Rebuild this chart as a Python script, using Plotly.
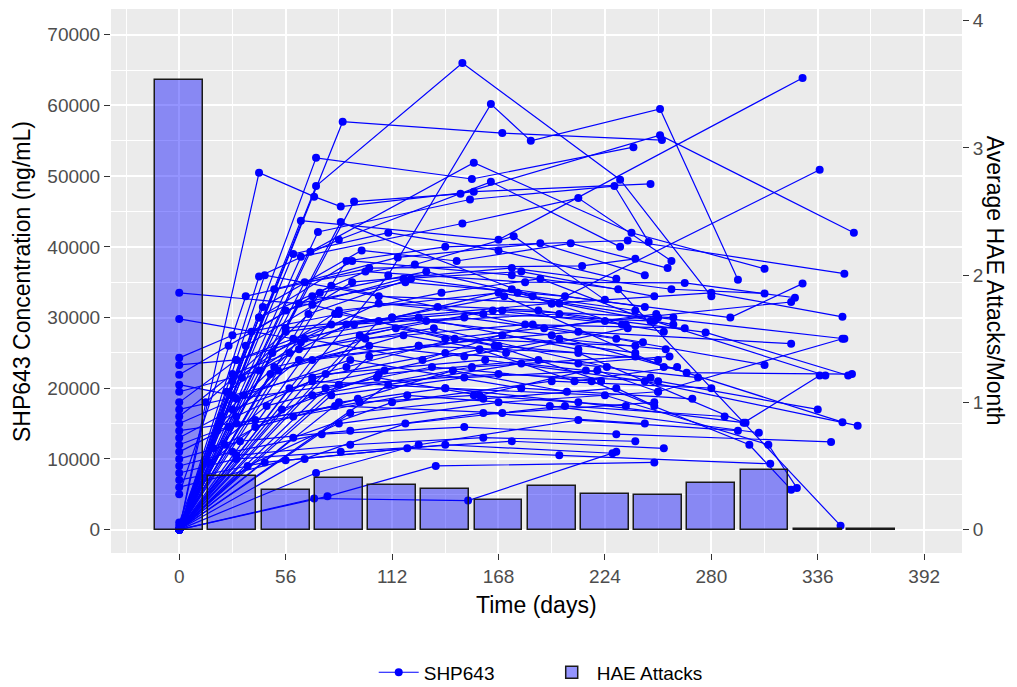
import plotly.graph_objects as go

# ---------------- data ----------------
bar_days = [0, 28, 56, 84, 112, 140, 168, 196, 224, 252, 280, 308, 336, 364]
hae_attacks = [3.53, 0.42, 0.315, 0.407, 0.354, 0.32, 0.23, 0.344, 0.281, 0.268, 0.367, 0.472, 0, 0]

x_ticks = [0, 56, 112, 168, 224, 280, 336, 392]
y_ticks = [0, 10000, 20000, 30000, 40000, 50000, 60000, 70000]
y2_ticks = [0, 1, 2, 3, 4]

subject_days = [
    [0, 86, 170, 254],
    [0, 72, 149, 232, 280],
    [0, 110, 164, 185, 253, 294],
    [0, 72, 154, 239],
    [0, 42, 71, 85, 155, 248],
    [0, 64, 168, 328],
    [0, 85, 196, 337],
    [0, 92, 148, 253, 355],
    [0, 73, 153, 229, 247],
    [0, 64, 149, 210, 259],
    [0, 69, 155, 238, 308],
    [0, 88, 140, 236, 350],
    [0, 42, 84, 164, 232],
    [0, 35, 100, 212, 240],
    [0, 70, 140, 224, 322],
    [0, 60, 126, 210],
    [0, 28, 84, 168, 252],
    [0, 30, 92, 171, 255],
    [0, 26, 70, 160, 250, 340],
    [0, 28, 88, 145, 240],
    [0, 42, 88, 150, 230, 308],
    [0, 30, 80, 170, 260],
    [0, 34, 90, 180, 270],
    [0, 28, 63, 134, 225],
    [0, 30, 84, 168, 252, 336],
    [0, 40, 95, 155, 235],
    [0, 28, 70, 140, 210, 298],
    [0, 30, 82, 170, 250],
    [0, 26, 60, 120, 195, 305],
    [0, 32, 90, 160, 245],
    [0, 28, 75, 150, 230, 343],
    [0, 30, 85, 175, 255],
    [0, 45, 120, 200, 311],
    [0, 56, 140, 228],
    [0, 14, 56, 112, 196, 280, 349],
    [0, 21, 63, 126, 210, 322],
    [0, 28, 84, 168, 252, 350],
    [0, 35, 91, 175, 259, 308],
    [0, 42, 98, 182, 266, 324],
    [0, 49, 105, 189, 277, 352],
    [0, 56, 112, 196, 267, 354],
    [0, 63, 119, 203, 290, 328],
    [0, 70, 126, 210, 297, 337],
    [0, 77, 133, 217, 300, 322],
    [0, 84, 140, 224, 310, 325],
    [0, 24, 70, 154, 240, 349],
    [0, 30, 77, 161, 245, 357],
    [0, 36, 84, 168, 252, 349],
    [0, 42, 91, 175, 231, 348],
    [0, 48, 98, 182, 266],
    [0, 54, 105, 189, 273],
    [0, 60, 112, 196, 280],
    [0, 66, 119, 203, 287],
    [0, 72, 126, 210, 294],
    [0, 71, 152, 230],
    [0, 78, 135, 250],
    [0, 30, 90, 160, 240],
    [0, 45, 105, 200, 260],
    [0, 50, 115, 190, 245],
    [0, 56, 118, 180, 250],
    [0, 64, 130, 200, 255],
    [0, 70, 140, 210, 258],
    [0, 80, 150, 220, 252],
    [0, 90, 160, 230, 250],
    [0, 95, 165, 235],
    [0, 100, 170, 240],
    [0, 105, 175, 245],
    [0, 110, 180, 248],
    [0, 60, 110, 168, 230],
    [0, 66, 124, 176, 224],
    [0, 74, 130, 186, 240],
    [0, 82, 138, 190, 248],
    [0, 50, 100, 150, 200, 256],
    [0, 58, 108, 158, 208, 262],
    [0, 20, 52, 118, 172, 236],
    [0, 25, 66, 128, 186, 244],
    [0, 18, 46, 104, 158, 214],
    [0, 38, 80, 136, 192, 251],
    [0, 33, 68, 122, 178, 233],
    [0, 22, 58, 114, 166, 222],
    [0, 44, 96, 146, 206, 257],
    [0, 16, 40, 94, 144, 204],
]

subject_conc = [
    [0, 57700, 56100, 55100],
    [0, 48600, 66000, 49500, 33000],
    [0, 36000, 60200, 55000, 59500, 35350],
    [0, 52600, 49600, 54100],
    [0, 50500, 47100, 45700, 47800, 48900],
    [0, 43700, 41000, 63900],
    [0, 43500, 32000, 50900],
    [0, 46400, 47500, 55800, 42000],
    [0, 42100, 46700, 48600, 40700],
    [0, 38600, 43300, 46900, 38000],
    [0, 39300, 51900, 42000, 36900],
    [0, 38000, 40000, 40900, 36200],
    [0, 35800, 41000, 49200, 40000],
    [5000, 33000, 37000, 37300, 38300],
    [33500, 31800, 27000, 29500, 32200],
    [29800, 27000, 30000, 25500],
    [24300, 27500, 30500, 26000, 24000],
    [23300, 24000, 29000, 33000, 23000],
    [21900, 26000, 33000, 30500, 29500, 21800],
    [20500, 19000, 23000, 27000, 26000],
    [19500, 22500, 29000, 30000, 27000, 23300],
    [18000, 24000, 29000, 31000, 30000],
    [17000, 19000, 24000, 20000, 18500],
    [16000, 22000, 25500, 28500, 23000],
    [15000, 18500, 20500, 22000, 21000, 17000],
    [14000, 15500, 18000, 19000, 17500],
    [13000, 17000, 21000, 20000, 18000, 15100],
    [12000, 15000, 17500, 16500, 18000],
    [11000, 14500, 16000, 19000, 17500, 13700],
    [10000, 12500, 14000, 16500, 15000],
    [9000, 11000, 13500, 14500, 13500, 12400],
    [8000, 10000, 11000, 12500, 11500],
    [7000, 9500, 11500, 10500, 9300],
    [6000, 9800, 12000, 10800],
    [0, 18000, 28000, 30000, 32000, 33500, 30100],
    [500, 15000, 24000, 26000, 28000, 26300],
    [0, 21000, 31000, 33500, 30000, 27000],
    [1000, 26000, 35000, 37000, 34000, 33400],
    [0, 30000, 36500, 35000, 34900, 32800],
    [0, 25000, 32000, 31000, 27900, 21800],
    [0, 28500, 30000, 27500, 22200, 22000],
    [0, 32000, 35000, 33000, 30000, 34800],
    [0, 24000, 26000, 25000, 15100, 21800],
    [0, 20000, 23000, 21000, 12000, 5650],
    [0, 18000, 20000, 19000, 12000, 5900],
    [0, 12000, 19000, 23000, 24500, 15200],
    [0, 16000, 22000, 24000, 21000, 14700],
    [0, 9000, 15000, 18000, 19500, 27000],
    [0, 30000, 38000, 36000, 34000, 560],
    [0, 22000, 27000, 29000, 28500],
    [0, 17000, 22000, 24000, 21500],
    [0, 13000, 18000, 21000, 20000],
    [0, 10000, 15000, 17500, 16000],
    [0, 8000, 12000, 15500, 14000],
    [0, 4400, 4100, 11000],
    [0, 4700, 9000, 9500],
    [0, 10500, 12000, 13000, 12500],
    [0, 36000, 33000, 32000, 29000],
    [0, 34000, 38500, 40500, 36000],
    [0, 31000, 35500, 36500, 33000],
    [0, 26500, 29500, 30500, 28000],
    [0, 21500, 25000, 23500, 24500],
    [0, 19000, 21500, 22500, 19500],
    [0, 16500, 18500, 20000, 17500],
    [0, 27500, 31000, 29000],
    [0, 24500, 27500, 25000],
    [0, 29500, 34000, 31500],
    [0, 20500, 23500, 21500],
    [0, 39000, 42000, 39500, 35500],
    [0, 35000, 37500, 41500, 32500],
    [0, 33500, 36500, 33000, 31000],
    [0, 30500, 33500, 35500, 29500],
    [0, 23000, 26000, 24500, 27000, 25500],
    [0, 20000, 22500, 25500, 21000, 23000],
    [0, 14000, 22500, 27500, 25000, 28500],
    [0, 19500, 27000, 24000, 29000, 26500],
    [0, 11500, 17500, 21500, 19000, 22500],
    [0, 28000, 34500, 31500, 28500, 30500],
    [0, 21500, 30500, 35500, 33500, 29000],
    [0, 16000, 25000, 28500, 26000, 21000],
    [0, 31500, 39500, 38000, 40500, 37000],
    [0, 9500, 14500, 18500, 22500, 19500],
]

# ---------------- figure ----------------
W, H = 1017, 687
L, R, T, B = 111, 55, 9, 134
SEC_SCALE = 18000.0          # ng/mL per attack/month on the secondary axis
y_range = [-3312, 73650]
y2_range = [y_range[0] / SEC_SCALE, y_range[1] / SEC_SCALE]

xs, ys = [], []
for d, c in zip(subject_days, subject_conc):
    xs += d + [None]
    ys += c + [None]

fig = go.Figure()

fig.add_trace(go.Scatter(
    x=xs, y=ys, mode="lines+markers", name="SHP643",
    line=dict(color="#0000FF", width=1.2),
    marker=dict(color="#0000FF", size=8),
    connectgaps=False, legendrank=1,
))

# zero-height bars are shown as a flat outline at 0
bar_shown = [v if v > 0 else 0.004 for v in hae_attacks]
fig.add_trace(go.Bar(
    x=bar_days, y=bar_shown, width=25.2, name="HAE Attacks", yaxis="y2",
    marker=dict(color="rgba(0,0,255,0.42)", line=dict(color="#1a1a1a", width=1.5)),
    legendrank=2,
))

tick_font = dict(family="Liberation Sans, Arial, sans-serif", size=19, color="#4D4D4D")
title_font = dict(family="Liberation Sans, Arial, sans-serif", size=23, color="#000000")

fig.update_layout(
    width=W, height=H,
    margin=dict(l=L, r=R, t=T, b=B, autoexpand=False),
    paper_bgcolor="white", plot_bgcolor="#EBEBEB",
    font=dict(family="Liberation Sans, Arial, sans-serif"),
    showlegend=True,
    legend=dict(orientation="h", x=0.512, xanchor="center", y=-0.2195, yanchor="middle",
                font=dict(family="Liberation Sans, Arial, sans-serif", size=19, color="#000000"),
                bgcolor="rgba(0,0,0,0)", entrywidth=118, itemwidth=40, traceorder="normal"),
    xaxis=dict(range=[-35.9, 411.9], tickvals=x_ticks, ticks="outside", ticklen=6,
               tickcolor="#333333", tickwidth=1.2, tickfont=tick_font, automargin=False,
               showgrid=True, gridcolor="white", gridwidth=2, zeroline=False,
               showline=False,
               minor=dict(dtick=28, tick0=0, showgrid=True, gridcolor="white", gridwidth=1, ticks="")),
    yaxis=dict(range=y_range, tickvals=y_ticks, tickformat="d", ticks="outside", ticklen=6,
               tickcolor="#333333", tickwidth=1.2, tickfont=tick_font, automargin=False,
               showgrid=True, gridcolor="white", gridwidth=2, zeroline=False, showline=False,
               minor=dict(dtick=5000, tick0=0, showgrid=True, gridcolor="white", gridwidth=1, ticks="")),
    yaxis2=dict(range=y2_range, tickvals=y2_ticks, overlaying="y", side="right",
                ticks="outside", ticklen=6, tickcolor="#333333", tickwidth=1.2, automargin=False,
                tickfont=tick_font, showgrid=False, zeroline=False, showline=False),
    bargap=0,
)

fig.add_annotation(text="Time (days)", xref="paper", yref="paper", x=0.5, y=-0.096,
                   xanchor="center", yanchor="middle", showarrow=False, font=title_font)
fig.add_annotation(text="SHP643 Concentration (ng/mL)", xref="paper", yref="paper",
                   x=-0.1046, y=0.5, xanchor="center", yanchor="middle", textangle=-90,
                   showarrow=False, font=title_font)
fig.add_annotation(text="Average HAE Attacks/Month", xref="paper", yref="paper",
                   x=1.039, y=0.5, xanchor="center", yanchor="middle", textangle=90,
                   showarrow=False, font=title_font)

fig.write_html("out.html", config={"displayModeBar": False},
               post_script="document.body.style.margin='0px';")
